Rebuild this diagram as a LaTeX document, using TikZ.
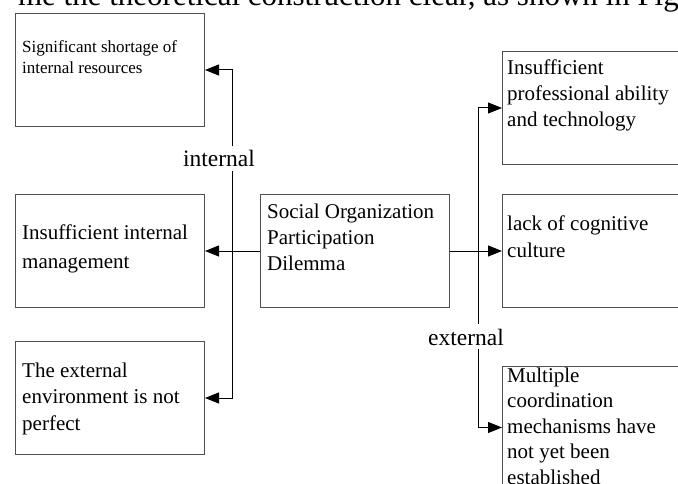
\documentclass[tikz,border=0pt]{standalone}
\usepackage{fontspec}
\setmainfont{Liberation Serif}
\usepackage{tikz}
\usetikzlibrary{arrows.meta,calc,positioning}
\definecolor{ink}{HTML}{000000}
\definecolor{frame}{HTML}{505050}

\begin{document}
\begin{tikzpicture}[x=1pt,y=-1pt,>={Triangle[length=14pt,width=11pt]},
  cell/.style={draw=frame,line width=1pt,inner sep=0pt,minimum width=189pt,minimum height=113pt,anchor=north west},
  words/.style={anchor=base west,align=left,inner sep=0pt,font=\fontsize{21}{26}\selectfont},
  side/.style={anchor=base,inner sep=4pt,font=\fontsize{23.5}{26}\selectfont}]
\useasboundingbox (0,0) rectangle (678,484);
\clip (0,0) rectangle (678,484);
\node[anchor=base east,inner sep=0pt,font=\fontsize{31}{34}\selectfont] (runon) at (679,6) {me the theoretical construction clear, as shown in Fig};
% boxes
\node[cell] (shortage) at (15,13) {};
\node[cell] (management) at (15,194) {};
\node[cell] (environment) at (15,341) {};
\node[cell] (dilemma) at (260,194) {};
\node[cell] (ability) at (502,51) {};
\node[cell] (culture) at (502,194) {};
\node[cell,minimum height=122pt] (mechanism) at (502,366) {};
% texts (placed by the baseline of their last line)
\node[words,font=\fontsize{17}{20.5}\selectfont] (shortage-t) at ($(shortage.north west)+(7,60.5)$) {Significant shortage of\\internal resources};
\node[words,font=\fontsize{21}{29}\selectfont] (management-t) at ($(management.north west)+(7,75)$) {Insufficient internal\\management};
\node[words,font=\fontsize{21}{26.5}\selectfont] (environment-t) at ($(environment.north west)+(7,89)$) {The external\\environment is not\\perfect};
\node[words] (dilemma-t) at ($(dilemma.north west)+(7,76)$) {Social Organization\\Participation\\Dilemma};
\node[words] (ability-t) at ($(ability.north west)+(5,76)$) {Insufficient\\professional ability\\and technology};
\node[words,font=\fontsize{21}{26}\selectfont] (culture-t) at ($(culture.north west)+(5,63)$) {lack of cognitive\\culture};
\node[words,font=\fontsize{21}{25.5}\selectfont] (mechanism-t) at ($(mechanism.north west)+(5,118)$) {Multiple\\coordination\\mechanisms have\\not yet been\\established};
% connectors
\coordinate (inturn) at (232,250.5);
\coordinate (exturn) at (478,250.5);
\node[side] (internal) at (219,167) {internal};
\node[side] (external) at (466,345) {external};
\draw[->,ink,line width=1pt] (dilemma) -- (management);
\draw[->,ink,line width=1pt] (dilemma) -- (culture);
\draw[->,ink,line width=1pt] (internal.north -| inturn) |- (shortage);
\draw[->,ink,line width=1pt] (internal.south -| inturn) |- (environment);
\draw[->,ink,line width=1pt] (external.north -| exturn) |- (ability);
\draw[->,ink,line width=1pt] (external.south -| exturn) |- (mechanism);
\end{tikzpicture}
\end{document}
